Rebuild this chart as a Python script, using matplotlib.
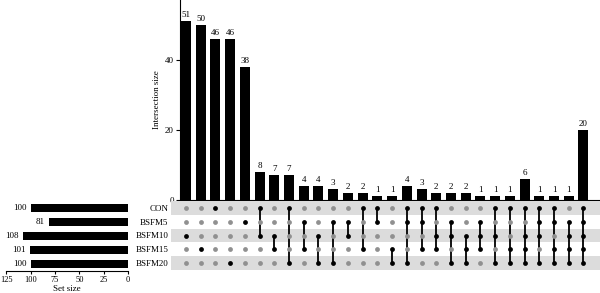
import matplotlib
matplotlib.use("Agg")
import matplotlib.pyplot as plt

# ==========================================
# Data
# ==========================================

sets = ["CON", "BSFM5", "BSFM10", "BSFM15", "BSFM20"]
set_sizes = [100, 81, 108, 101, 100]

counts = [51, 50, 46, 46, 38, 8, 7, 7, 4, 4, 3, 2, 2, 1, 1,
          4, 3, 2, 2, 2, 1, 1, 1, 6, 1, 1, 1, 20]

members = [
    ["BSFM10"], ["BSFM15"], ["CON"], ["BSFM20"], ["BSFM5"],
    ["CON", "BSFM10"], ["BSFM10", "BSFM15"], ["CON", "BSFM20"],
    ["BSFM5", "BSFM15"], ["BSFM10", "BSFM20"], ["BSFM5", "BSFM20"],
    ["BSFM5", "BSFM10"], ["CON", "BSFM15"], ["CON", "BSFM5"],
    ["BSFM15", "BSFM20"],
    ["CON", "BSFM5", "BSFM20"], ["CON", "BSFM5", "BSFM15"],
    ["CON", "BSFM10", "BSFM15"], ["BSFM5", "BSFM10", "BSFM20"],
    ["BSFM10", "BSFM15", "BSFM20"], ["BSFM5", "BSFM10", "BSFM15"],
    ["CON", "BSFM10", "BSFM20"], ["CON", "BSFM15", "BSFM20"],
    ["CON", "BSFM10", "BSFM15", "BSFM20"],
    ["CON", "BSFM5", "BSFM10", "BSFM20"],
    ["CON", "BSFM5", "BSFM15", "BSFM20"],
    ["BSFM5", "BSFM10", "BSFM15", "BSFM20"],
    ["CON", "BSFM5", "BSFM10", "BSFM15", "BSFM20"],
]

set_ticks = [125, 100, 75, 50, 25, 0]
bar_ticks = [0, 20, 40]

# ==========================================
# Layout
# ==========================================

plt.rcParams["font.family"] = ["Liberation Serif", "DejaVu Serif"]
plt.rcParams["font.size"] = 6.5
fs = 6.5

W, H = 600, 293
fig = plt.figure(figsize=(W / 100, H / 100), dpi=100)


def rect(x0, y0, x1, y1):
    return [x0 / W, 1 - y1 / H, (x1 - x0) / W, (y1 - y0) / H]


col0, step = 186, 14.72
n = len(counts)
right = (n - 1) + (600 - (col0 + (n - 1) * step)) / step

ax_bar = fig.add_axes(rect(180, 0, 600, 200))
ax_mat = fig.add_axes(rect(171, 201, 600, 270))
ax_set = fig.add_axes(rect(6, 201, 128, 271))

# ==========================================
# Intersection bars
# ==========================================

xs = list(range(n))
ax_bar.bar(xs, counts, width=0.68, color="black")
for x, c in zip(xs, counts):
    ax_bar.annotate(str(c), (x, c), xytext=(0, 1.5), textcoords="offset points",
                    ha="center", va="bottom", fontsize=fs)

ax_bar.set_xlim(-(col0 - 180) / step, right)
ax_bar.set_ylim(0, 57.1)
ax_bar.set_yticks(bar_ticks)
ax_bar.set_xticks([])
ax_bar.tick_params(axis="y", length=3, pad=1.5, labelsize=fs)
ax_bar.set_ylabel("Intersection size", fontsize=fs, labelpad=3)
ax_bar.spines["top"].set_visible(False)
ax_bar.spines["right"].set_visible(False)

# ==========================================
# Matrix
# ==========================================

for r in range(0, len(sets), 2):
    ax_mat.axhspan(r - 0.5, r + 0.5, color="#dcdcdc", zorder=0, lw=0)

for x, m in zip(xs, members):
    rows = [sets.index(s) for s in m]
    if len(rows) > 1:
        ax_mat.plot([x, x], [min(rows), max(rows)], color="black", lw=1.3, zorder=1)
    for r in range(len(sets)):
        if r in rows:
            ax_mat.scatter(x, r, s=12, color="black", zorder=3, lw=0)
        else:
            ax_mat.scatter(x, r, s=12, color="#909090", zorder=2, lw=0)

ax_mat.set_xlim(-(col0 - 171) / step, right)
ax_mat.set_ylim(len(sets) - 0.5, -0.5)
ax_mat.set_yticks(range(len(sets)))
ax_mat.set_yticklabels(sets, fontsize=fs)
ax_mat.tick_params(axis="y", length=0, pad=2)
ax_mat.set_xticks([])
for s in ax_mat.spines.values():
    s.set_visible(False)

# ==========================================
# Set size bars
# ==========================================

ax_set.barh(range(len(sets)), set_sizes, height=0.6, color="black")
for r, v in enumerate(set_sizes):
    ax_set.annotate(str(v), (v, r), xytext=(-3, 0), textcoords="offset points",
                    ha="right", va="center", fontsize=fs)

ax_set.set_xlim(125.5, 0)
ax_set.set_ylim(len(sets) - 0.5, -0.5)
ax_set.set_xticks(set_ticks)
ax_set.set_yticks([])
ax_set.tick_params(axis="x", length=2.5, pad=1, labelsize=6)
ax_set.set_xlabel("Set size", fontsize=fs, labelpad=0.5)
for side in ["top", "left", "right"]:
    ax_set.spines[side].set_visible(False)

plt.savefig("out.png", dpi=100)
